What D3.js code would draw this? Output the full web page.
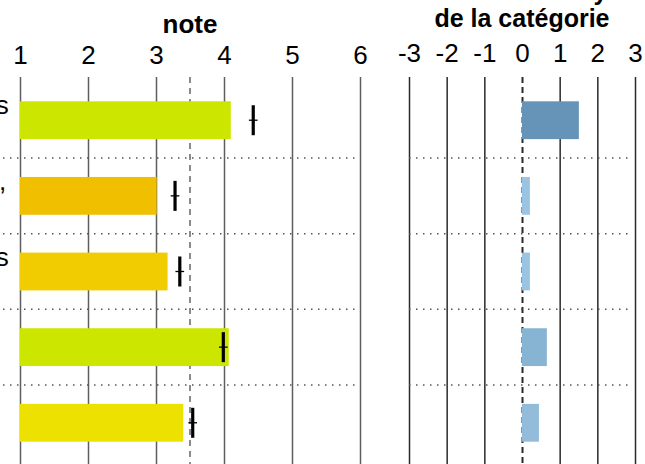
<!DOCTYPE html>
<html>
<head>
<meta charset="utf-8">
<script src="https://cdn.jsdelivr.net/npm/d3@7"></script>
<style>
  html, body { margin: 0; padding: 0; background: #fff; overflow: hidden; }
  svg { display: block; font-family: "Liberation Sans", Arial, sans-serif; }
</style>
</head>
<body>
<svg id="chart" width="645" height="464"></svg>
<script>
// ---- data ----
const categories = ["fruits", "viandes", "laits", "cereales", "feculents"];
const labelLines = [
  ["Fruits et légumes", "frais"],
  ["Viandes, volaille,", "poissons"],
  ["Laits et fromages", "et yaourts"],
  ["Céréales"],
  ["Féculents"]
];
const noteValues   = [4.10, 3.01, 3.17, 4.07, 3.40];
const markerValues = [4.43, 3.28, 3.35, 3.99, 3.54];
const markerCI     = [0.064, 0.064, 0.064, 0.064, 0.064];
const diffValues   = [1.51, 0.21, 0.21, 0.66, 0.45];
const noteColors   = ["#cce600", "#f0bf00", "#f0cc00", "#cce600", "#ece100"];
const diffColors   = ["#6694b8", "#9ac4e2", "#9ac4e2", "#88b4d4", "#93bcdb"];
const referenceNote = 3.5;
const noteTicks = [1, 2, 3, 4, 5, 6];
const diffTicks = [-3, -2, -1, 0, 1, 2, 3];
const titleLeft = "note";
const titleRight = ["Différence à la moyenne", "de la catégorie"];

// ---- layout ----
const svg = d3.select("#chart");
const gridTop = 77, gridBottom = 480;
const xL = d3.scaleLinear().domain([1, 6]).range([20, 360]);
const xR = d3.scaleLinear().domain([-3, 3]).range([409, 635]);
const y = d3.scaleBand().domain(categories).range([82.4, 460.6]).padding(0);
const barH = y.bandwidth() * 0.5;
const rows = categories.map((c, i) => ({
  cat: c, lines: labelLines[i], note: noteValues[i], marker: markerValues[i],
  ci: markerCI[i], diff: diffValues[i], nc: noteColors[i], dc: diffColors[i]
}));

// grid lines (left)
const gL = svg.append("g").attr("transform", `translate(0,${gridTop})`)
  .call(d3.axisBottom(xL).tickValues(noteTicks).tickSize(gridBottom - gridTop).tickFormat(""));
gL.select(".domain").remove();
gL.selectAll(".tick line").attr("stroke", "#5e5e5e").attr("stroke-width", 1.5);

// grid lines (right)
const gR = svg.append("g").attr("transform", `translate(0,${gridTop})`)
  .call(d3.axisBottom(xR).tickValues(diffTicks).tickSize(gridBottom - gridTop).tickFormat(""));
gR.select(".domain").remove();
gR.selectAll(".tick line").attr("stroke", "#2a2a2a")
  .attr("stroke-dasharray", d => d === 0 ? "6,4" : null)
  .attr("stroke-width", d => d === 0 ? 2 : 1.5);

// row separators
const seps = categories.slice(1);
svg.append("g").selectAll("line").data(seps).join("line")
  .attr("x1", 3).attr("x2", xL(6) - 2)
  .attr("y1", d => y(d)).attr("y2", d => y(d))
  .attr("stroke", "#555").attr("stroke-width", 1.5).attr("stroke-dasharray", "1.5,5.5");
svg.append("g").selectAll("line").data(seps).join("line")
  .attr("x1", xR(-3)).attr("x2", xR(3) - 2)
  .attr("y1", d => y(d)).attr("y2", d => y(d))
  .attr("stroke", "#555").attr("stroke-width", 1.5).attr("stroke-dasharray", "1.5,5.5");

// reference dashed line
svg.append("line")
  .attr("x1", xL(referenceNote)).attr("x2", xL(referenceNote))
  .attr("y1", gridTop).attr("y2", gridBottom)
  .attr("stroke", "#666").attr("stroke-width", 1.5).attr("stroke-dasharray", "6,5");

// bars left
svg.append("g").selectAll("rect").data(rows).join("rect")
  .attr("x", xL(1)).attr("width", d => xL(d.note) - xL(1))
  .attr("y", d => y(d.cat) + (y.bandwidth() - barH) / 2).attr("height", barH)
  .attr("fill", d => d.nc);

// markers
const mk = svg.append("g").selectAll("g").data(rows).join("g");
mk.append("line")
  .attr("x1", d => xL(d.marker)).attr("x2", d => xL(d.marker))
  .attr("y1", d => y(d.cat) + y.bandwidth() / 2 - 15)
  .attr("y2", d => y(d.cat) + y.bandwidth() / 2 + 15)
  .attr("stroke", "#000").attr("stroke-width", 3.2);
mk.append("line")
  .attr("x1", d => xL(d.marker - d.ci)).attr("x2", d => xL(d.marker + d.ci))
  .attr("y1", d => y(d.cat) + y.bandwidth() / 2)
  .attr("y2", d => y(d.cat) + y.bandwidth() / 2)
  .attr("stroke", "#000").attr("stroke-width", 1.3);

// bars right
svg.append("g").selectAll("rect").data(rows).join("rect")
  .attr("x", d => Math.min(xR(0), xR(d.diff)))
  .attr("width", d => Math.abs(xR(d.diff) - xR(0)))
  .attr("y", d => y(d.cat) + (y.bandwidth() - barH) / 2).attr("height", barH)
  .attr("fill", d => d.dc);

// tick labels
const aL = svg.append("g").attr("transform", "translate(0,64)")
  .call(d3.axisTop(xL).tickValues(noteTicks).tickSize(0).tickPadding(0).tickFormat(d => String(d)));
aL.select(".domain").remove();
aL.selectAll("text").attr("font-size", 26).attr("fill", "#000").attr("font-family", "Liberation Sans, Arial, sans-serif");

const aR = svg.append("g").attr("transform", "translate(0,62)")
  .call(d3.axisTop(xR).tickValues(diffTicks).tickSize(0).tickPadding(0).tickFormat(d => String(d)));
aR.select(".domain").remove();
aR.selectAll("text").attr("font-size", 26).attr("fill", "#000").attr("font-family", "Liberation Sans, Arial, sans-serif");

// titles
svg.append("text").attr("x", (xL(1) + xL(6)) / 2).attr("y", 33)
  .attr("text-anchor", "middle").attr("font-size", 26).attr("font-weight", "bold")
  .text(titleLeft);
svg.append("g").selectAll("text").data(titleRight).join("text")
  .attr("x", (xR(-3) + xR(3)) / 2).attr("y", (d, i) => 0 + i * 27)
  .attr("text-anchor", "middle").attr("font-size", 25).attr("font-weight", "bold")
  .text(d => d);

// row labels (mostly outside the visible area)
const labelX = -91;
const lab = svg.append("g").selectAll("text").data(rows).join("text")
  .attr("text-anchor", "middle").attr("font-size", 26).attr("fill", "#000");
lab.each(function (d) {
  const n = d.lines.length;
  const cy = y(d.cat) + y.bandwidth() / 2;
  d3.select(this).selectAll("tspan").data(d.lines).join("tspan")
    .attr("x", labelX)
    .attr("y", (t, i) => cy - (n - 1) * 15 + i * 30 + 9)
    .text(t => t);
});
</script>
</body>
</html>
